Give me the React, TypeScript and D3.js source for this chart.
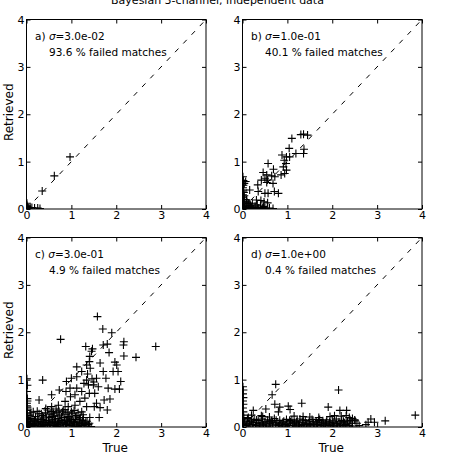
import React, { useEffect, useRef } from 'react';
import * as d3 from 'd3';

type Pt = [number, number];

const ticks = [0, 1, 2, 3, 4];
const panelLetters = ['a)', 'b)', 'c)', 'd)'];
const sigmaLabels = ['3.0e-02', '1.0e-01', '3.0e-01', '1.0e+00'];
const failedLabels = ['93.6', '40.1', '4.9', '0.4'];

// a) sigma = 0.03
const pointsA: Pt[] = [
    [0.97, 1.1], [0.62, 0.7], [0.35, 0.38],
    [0.01, 0.12], [0.02, 0.05], [0.04, 0.02], [0.08, 0.02], [0.12, 0.03],
    [0.18, 0.02], [0.25, 0.02], [0.3, 0.01], [0.02, 0.01], [0.01, 0.08],
];

// b) sigma = 0.1
const pointsB: Pt[] = [
    [1.36, 1.58], [1.45, 1.56], [1.3, 1.57], [1.1, 1.49], [1.04, 1.28], [1.19, 1.17],
    [1.37, 1.26], [1.36, 1.17], [0.88, 1.14], [0.98, 1.1], [1.05, 1.1], [0.93, 1.03],
    [0.57, 0.96], [0.97, 0.96], [0.91, 0.89], [0.98, 0.82], [0.94, 0.75], [0.86, 0.72],
    [0.69, 0.84], [0.46, 0.77], [0.54, 0.72], [0.65, 0.7], [0.72, 0.68], [0.5, 0.65],
    [0.42, 0.61], [0.56, 0.61], [0.68, 0.54], [0.34, 0.51], [0.54, 0.56], [0.07, 0.58],
    [0.04, 0.54], [0.35, 0.37], [0.5, 0.33], [0.57, 0.33], [0.71, 0.37], [0.8, 0.33],
    [0.16, 0.4], [0.31, 0.19], [0.41, 0.18], [0.48, 0.15], [0.56, 0.13], [0.09, 0.19],
    [0.13, 0.12],
    [0.01, 0.05], [0.02, 0.1], [0.01, 0.15], [0.03, 0.2], [0.02, 0.25], [0.01, 0.3],
    [0.03, 0.35], [0.02, 0.4], [0.01, 0.45], [0.02, 0.5], [0.04, 0.03], [0.03, 0.12],
    [0.04, 0.28], [0.01, 0.38], [0.02, 0.6], [0.05, 0.2], [0.01, 0.68],
    [0.05, 0.02], [0.1, 0.01], [0.15, 0.03], [0.2, 0.02], [0.25, 0.01], [0.3, 0.03],
    [0.35, 0.02], [0.4, 0.01], [0.45, 0.03], [0.5, 0.02], [0.55, 0.01], [0.6, 0.02],
    [0.68, 0.01], [0.08, 0.06], [0.12, 0.08], [0.18, 0.07], [0.22, 0.12], [0.28, 0.06],
    [0.33, 0.09], [0.4, 0.07], [0.47, 0.05], [0.1, 0.15], [0.15, 0.12],
];

// c) sigma = 0.3
const pointsC: Pt[] = [
    [1.58, 2.33], [1.7, 2.07], [1.9, 1.99], [0.76, 1.85], [2.17, 1.8], [2.16, 1.73],
    [1.71, 1.73], [1.8, 1.75], [2.88, 1.7], [1.32, 1.7], [1.47, 1.65], [1.84, 1.57],
    [2.17, 1.5], [2.44, 1.47], [1.41, 1.49], [1.4, 1.38], [1.34, 1.31], [1.64, 1.35],
    [1.97, 1.37], [2.01, 1.31], [1.12, 1.27], [1.23, 1.17], [1.42, 1.24], [1.71, 1.17],
    [1.93, 1.17], [2.04, 1.17], [0.36, 0.99], [1.0, 1.03], [1.12, 1.06], [1.34, 0.99],
    [1.56, 1.03], [1.77, 1.03], [2.1, 0.96], [0.89, 0.96], [1.38, 0.89], [1.49, 0.89],
    [1.6, 0.85], [1.82, 0.82], [1.97, 0.8], [2.07, 0.8], [0.97, 0.82], [1.12, 0.82],
    [0.73, 0.78], [0.88, 0.75], [1.23, 0.75], [1.4, 0.71], [1.52, 0.71], [0.98, 0.64],
    [0.56, 0.68], [1.08, 0.68], [1.3, 0.61], [1.73, 0.57], [1.86, 0.59], [0.28, 0.57],
    [1.56, 0.5], [1.51, 0.43], [1.64, 0.41], [1.8, 0.36], [1.41, 0.2], [1.62, 0.2],
    [0.15, 0.32], [0.43, 0.39], [0.56, 0.43], [0.71, 0.46], [0.86, 0.54], [1.19, 0.54],
    [0.93, 0.43], [1.08, 0.46], [1.34, 0.43], [0.59, 0.32], [0.82, 0.36], [1.0, 0.32],
    [1.23, 0.32], [1.45, 1.6], [1.36, 1.12], [1.46, 1.02], [1.28, 0.92], [1.5, 0.95],
    [0.03, 0.02], [0.07, 0.06], [0.11, 0.01], [0.15, 0.08], [0.19, 0.03], [0.23, 0.1],
    [0.27, 0.04], [0.31, 0.01], [0.35, 0.07], [0.39, 0.03], [0.43, 0.09], [0.47, 0.02],
    [0.51, 0.06], [0.55, 0.1], [0.59, 0.03], [0.63, 0.07], [0.67, 0.01], [0.71, 0.09],
    [0.75, 0.04], [0.79, 0.08], [0.83, 0.02], [0.87, 0.06], [0.91, 0.1], [0.95, 0.03],
    [0.99, 0.07], [1.03, 0.02], [1.07, 0.09], [1.11, 0.04], [1.15, 0.01], [1.19, 0.06],
    [1.23, 0.03], [1.28, 0.08], [1.33, 0.02], [1.38, 0.05], [1.44, 0.01],
    [0.05, 0.15], [0.12, 0.18], [0.18, 0.13], [0.25, 0.17], [0.32, 0.12], [0.38, 0.19],
    [0.45, 0.14], [0.52, 0.2], [0.58, 0.15], [0.64, 0.12], [0.7, 0.18], [0.77, 0.14],
    [0.84, 0.2], [0.9, 0.13], [0.97, 0.17], [1.04, 0.12], [1.1, 0.16], [1.17, 0.11],
    [1.25, 0.14], [1.32, 0.1],
    [0.05, 0.04], [0.09, 0.11], [0.13, 0.05], [0.17, 0.15], [0.21, 0.07], [0.26, 0.12],
    [0.3, 0.06], [0.34, 0.16], [0.37, 0.1], [0.41, 0.05], [0.44, 0.21], [0.49, 0.11],
    [0.53, 0.04], [0.57, 0.22], [0.61, 0.09], [0.65, 0.17], [0.69, 0.05], [0.73, 0.12],
    [0.78, 0.21], [0.81, 0.1], [0.85, 0.15], [0.89, 0.05], [0.93, 0.19], [0.96, 0.11],
    [1.0, 0.15], [1.05, 0.06], [1.09, 0.21], [1.13, 0.09], [1.18, 0.17], [1.22, 0.08],
    [1.27, 0.2], [1.3, 0.05], [1.35, 0.12], [1.4, 0.08],
    [0.08, 0.25], [0.2, 0.22], [0.28, 0.28], [0.36, 0.24], [0.42, 0.3], [0.5, 0.26],
    [0.55, 0.33], [0.62, 0.23], [0.68, 0.3], [0.74, 0.25], [0.8, 0.32], [0.88, 0.27],
    [0.95, 0.22], [1.02, 0.28], [1.12, 0.24], [1.2, 0.2], [0.47, 0.36], [0.66, 0.38],
    [0.86, 0.37], [1.06, 0.35], [0.1, 0.3], [0.24, 0.33], [0.33, 0.28], [0.6, 0.28],
    [0.72, 0.34], [0.92, 0.3], [1.15, 0.3], [1.26, 0.26],
    [0.01, 0.05], [0.02, 0.12], [0.01, 0.2], [0.02, 0.28], [0.01, 0.35], [0.02, 0.42],
    [0.01, 0.5], [0.02, 0.6], [0.01, 0.75], [0.01, 1.02], [0.02, 0.88], [0.02, 0.16],
    [0.01, 0.24], [0.03, 0.08], [0.02, 0.38], [0.01, 0.45], [0.02, 0.55],
];

// d) sigma = 1.0
const pointsD: Pt[] = [
    [0.74, 0.9], [0.66, 0.68], [0.72, 0.48], [2.14, 0.78], [0.83, 0.42], [1.02, 0.44],
    [1.32, 0.5], [1.91, 0.42], [2.17, 0.35], [2.32, 0.35], [0.52, 0.38], [0.24, 0.35],
    [0.42, 0.24], [0.13, 0.2], [0.8, 0.32], [1.06, 0.37],
    [0.02, 0.05], [0.05, 0.12], [0.08, 0.03], [0.11, 0.18], [0.14, 0.07], [0.17, 0.02],
    [0.2, 0.13], [0.23, 0.05], [0.26, 0.16], [0.29, 0.03], [0.32, 0.09], [0.35, 0.14],
    [0.38, 0.02], [0.41, 0.07], [0.44, 0.17], [0.47, 0.04], [0.5, 0.11], [0.53, 0.06],
    [0.56, 0.15], [0.59, 0.02], [0.62, 0.08], [0.65, 0.13], [0.68, 0.04], [0.71, 0.18],
    [0.74, 0.06], [0.77, 0.1], [0.8, 0.03], [0.83, 0.14], [0.86, 0.07], [0.89, 0.02],
    [0.92, 0.12], [0.95, 0.05], [0.98, 0.16], [1.01, 0.08], [1.04, 0.03], [1.07, 0.11],
    [1.1, 0.15], [1.13, 0.04], [1.16, 0.09], [1.19, 0.02], [1.22, 0.13], [1.25, 0.06],
    [1.28, 0.17], [1.31, 0.03], [1.34, 0.1], [1.37, 0.05], [1.4, 0.14], [1.43, 0.02],
    [1.46, 0.08], [1.49, 0.12], [1.52, 0.04], [1.55, 0.16], [1.58, 0.07], [1.61, 0.02],
    [1.64, 0.11], [1.67, 0.05], [1.7, 0.14], [1.73, 0.03], [1.76, 0.09], [1.79, 0.13],
    [1.82, 0.02], [1.85, 0.07], [1.88, 0.15], [1.91, 0.04], [1.94, 0.1], [1.97, 0.06],
    [2.0, 0.13], [2.03, 0.02], [2.06, 0.08], [2.09, 0.17], [2.12, 0.04], [2.15, 0.11],
    [2.18, 0.06], [2.21, 0.14], [2.24, 0.03], [2.27, 0.09], [2.3, 0.05], [2.34, 0.12],
    [2.38, 0.03], [2.42, 0.08], [2.45, 0.02],
    [0.03, 0.09], [0.1, 0.06], [0.16, 0.11], [0.24, 0.1], [0.31, 0.15], [0.37, 0.06],
    [0.45, 0.1], [0.52, 0.02], [0.6, 0.12], [0.67, 0.09], [0.75, 0.14], [0.82, 0.06],
    [0.9, 0.1], [0.97, 0.02], [1.05, 0.14], [1.12, 0.07], [1.2, 0.11], [1.27, 0.02],
    [1.35, 0.15], [1.42, 0.08], [1.5, 0.05], [1.57, 0.12], [1.65, 0.09], [1.72, 0.16],
    [1.8, 0.06], [1.87, 0.11], [1.95, 0.03], [2.02, 0.1], [2.1, 0.07], [2.17, 0.02],
    [2.25, 0.12], [2.33, 0.08], [2.4, 0.14],
    [0.2, 0.25], [0.45, 0.22], [0.6, 0.21], [1.15, 0.23], [1.35, 0.22], [1.5, 0.21],
    [1.7, 0.2], [1.95, 0.22], [2.05, 0.24], [2.2, 0.23],
    [0.01, 0.25], [0.02, 0.32], [0.01, 0.4], [0.02, 0.48], [0.01, 0.55], [0.02, 0.62],
    [0.01, 0.7], [0.02, 0.78], [0.01, 0.85], [0.03, 0.2], [0.01, 0.15],
    [2.5, 0.15], [2.55, 0.08], [2.6, 0.03], [2.8, 0.1], [2.86, 0.17], [2.94, 0.1],
    [3.18, 0.13], [3.85, 0.25], [2.38, 0.2], [2.31, 0.24], [2.51, 0.13], [2.75, 0.05],
    [2.45, 0.18],
];

const allPoints = [pointsA, pointsB, pointsC, pointsD];

const App: React.FC = () => {
    const svgRef = useRef<SVGSVGElement>(null);

    useEffect(() => {
        const svg = d3.select(svgRef.current);
        svg.selectAll('*').remove();

        const font = "'DejaVu Sans', sans-serif";
        const panelW = 179.5;
        const panelH = 189.5;
        const lefts = [26.5, 242.5];
        const tops = [19.5, 237.5];
        const half = 4; // '+' arm length

        svg.append('text')
            .attr('x', 217.5)
            .attr('y', 4)
            .attr('text-anchor', 'middle')
            .style('font-family', font)
            .style('font-size', '11px')
            .text('Bayesian 3-channel, independent data');

        allPoints.forEach((pts, i) => {
            const col = i % 2;
            const row = Math.floor(i / 2);
            const g = svg.append('g')
                .attr('transform', `translate(${lefts[col]},${tops[row]})`);

            const x = d3.scaleLinear().domain([0, 4]).range([0, panelW]);
            const y = d3.scaleLinear().domain([0, 4]).range([panelH, 0]);

            const clipId = `clip-${i}`;
            g.append('clipPath').attr('id', clipId)
                .append('rect').attr('width', panelW).attr('height', panelH);

            const plot = g.append('g').attr('clip-path', `url(#${clipId})`);

            // 1:1 reference line
            plot.append('line')
                .attr('x1', x(0)).attr('y1', y(0))
                .attr('x2', x(4)).attr('y2', y(4))
                .attr('stroke', '#000')
                .attr('stroke-width', 1)
                .attr('stroke-dasharray', '5,7');

            // '+' markers
            plot.selectAll('path.pt')
                .data(pts)
                .enter()
                .append('path')
                .attr('class', 'pt')
                .attr('d', d => {
                    const cx = x(d[0]);
                    const cy = y(d[1]);
                    return `M${cx - half},${cy}h${2 * half}M${cx},${cy - half}v${2 * half}`;
                })
                .attr('fill', 'none')
                .attr('stroke', '#000')
                .attr('stroke-width', 1.1);

            // Axes, ticks pointing inwards on all four sides
            const styleAxis = (sel: d3.Selection<SVGGElement, unknown, null, undefined>) => {
                sel.select('.domain').remove();
                sel.selectAll('line').attr('stroke', '#000');
                sel.selectAll('text')
                    .attr('fill', '#000')
                    .style('font-family', font)
                    .style('font-size', '11px');
            };

            g.append('g')
                .attr('transform', `translate(0,${panelH})`)
                .call(d3.axisBottom(x).tickValues(ticks).tickFormat(d3.format('d')).tickSize(-4).tickPadding(2.5))
                .call(styleAxis);
            g.append('g')
                .call(d3.axisLeft(y).tickValues(ticks).tickFormat(d3.format('d')).tickSize(-4).tickPadding(2))
                .call(styleAxis);
            g.append('g')
                .call(d3.axisTop(x).tickValues(ticks).tickFormat(() => '').tickSize(-4))
                .call(styleAxis);
            g.append('g')
                .attr('transform', `translate(${panelW},0)`)
                .call(d3.axisRight(y).tickValues(ticks).tickFormat(() => '').tickSize(-4))
                .call(styleAxis);

            g.append('rect')
                .attr('width', panelW).attr('height', panelH)
                .attr('fill', 'none').attr('stroke', '#000').attr('stroke-width', 1);

            // annotation
            const t1 = g.append('text')
                .attr('x', 8.5).attr('y', 20)
                .style('font-family', font)
                .style('font-size', '10.5px');
            t1.append('tspan').text(`${panelLetters[i]} `);
            t1.append('tspan').style('font-style', 'italic').text('σ');
            t1.append('tspan').text(`=${sigmaLabels[i]}`);

            g.append('text')
                .attr('x', 22.5).attr('y', 36.5)
                .style('font-family', font)
                .style('font-size', '10.5px')
                .text(`${failedLabels[i]} % failed matches`);

            if (col === 0) {
                g.append('text')
                    .attr('transform', `translate(${12.5 - lefts[col]},${panelH / 2 - 2}) rotate(-90)`)
                    .attr('text-anchor', 'middle')
                    .style('font-family', font)
                    .style('font-size', '12px')
                    .text('Retrieved');
            }
            if (row === 1) {
                g.append('text')
                    .attr('x', panelW / 2 - 1)
                    .attr('y', 452 - tops[row])
                    .attr('text-anchor', 'middle')
                    .style('font-family', font)
                    .style('font-size', '12px')
                    .text('True');
            }
        });
    }, []);

    return (
        <svg
            ref={svgRef}
            width={449}
            height={460}
            style={{ position: 'absolute', left: 0, top: 0, background: '#fff' }}
        />
    );
};

export default App;
